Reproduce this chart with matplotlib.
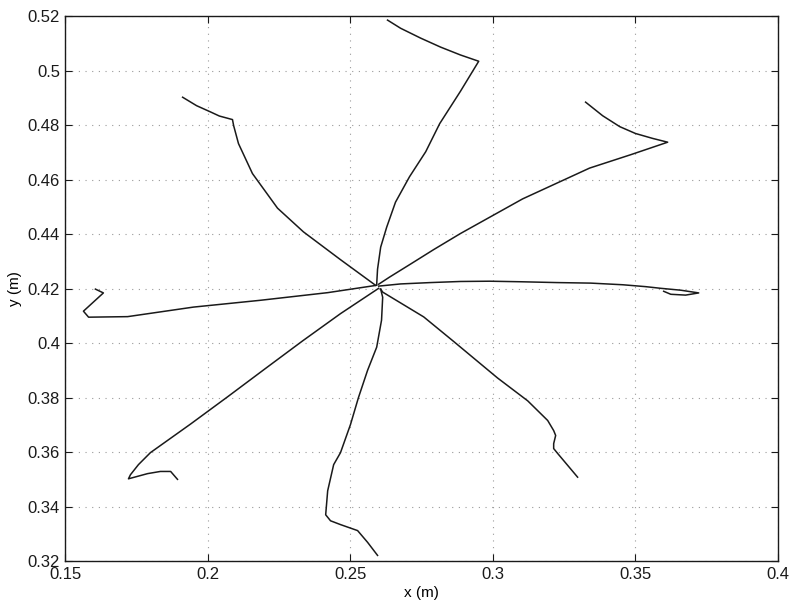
import matplotlib
matplotlib.use("Agg")
import matplotlib.pyplot as plt
from matplotlib.ticker import FuncFormatter

# trajectories (x, y in metres), all starting near the centre point
path1_x = [0.2588, 0.2465, 0.2335, 0.2244, 0.2156, 0.2107, 0.2090, 0.2086, 0.2040, 0.2009, 0.1960, 0.1911]
path1_y = [0.4213, 0.4307, 0.4409, 0.4496, 0.4623, 0.4733, 0.4799, 0.4821, 0.4834, 0.4849, 0.4872, 0.4903]

path2_x = [0.2592, 0.2595, 0.2606, 0.2627, 0.2658, 0.2707, 0.2764, 0.2813, 0.2886, 0.2950,
           0.2886, 0.2816, 0.2746, 0.2676, 0.2630]
path2_y = [0.4217, 0.4272, 0.4353, 0.4426, 0.4518, 0.4611, 0.4703, 0.4806, 0.4925, 0.5035,
           0.5058, 0.5087, 0.5120, 0.5156, 0.5186]

path3_x = [0.2599, 0.2637, 0.2711, 0.2792, 0.2886, 0.3104, 0.3339, 0.3483, 0.3613,
           0.3560, 0.3500, 0.3445, 0.3385, 0.3325]
path3_y = [0.4217, 0.4243, 0.4291, 0.4344, 0.4403, 0.4530, 0.4643, 0.4692, 0.4738,
           0.4752, 0.4770, 0.4795, 0.4835, 0.4885]

path4_x = [0.2599, 0.2676, 0.2781, 0.2886, 0.2988, 0.3097, 0.3223, 0.3343, 0.3455, 0.3536,
           0.3588, 0.3659, 0.3722, 0.3676, 0.3624, 0.3599]
path4_y = [0.4210, 0.4218, 0.4223, 0.4227, 0.4228, 0.4226, 0.4223, 0.4221, 0.4215, 0.4208,
           0.4202, 0.4195, 0.4185, 0.4177, 0.4180, 0.4191]

path5_x = [0.2592, 0.2420, 0.2184, 0.1949, 0.1718, 0.1581, 0.1563, 0.1633, 0.1605]
path5_y = [0.4213, 0.4186, 0.4158, 0.4133, 0.4098, 0.4096, 0.4118, 0.4185, 0.4199]

path6_x = [0.2606, 0.2613, 0.2757, 0.2862, 0.3016, 0.3122, 0.3192, 0.3213, 0.3220, 0.3213,
           0.3213, 0.3227, 0.3297]
path6_y = [0.4199, 0.4188, 0.4097, 0.4007, 0.3873, 0.3789, 0.3717, 0.3680, 0.3662, 0.3632,
           0.3614, 0.3596, 0.3509]

path7_x = [0.2599, 0.2465, 0.2332, 0.2202, 0.2069, 0.1939, 0.1798, 0.1756, 0.1728, 0.1721,
           0.1788, 0.1833, 0.1869, 0.1893]
path7_y = [0.4202, 0.4109, 0.4009, 0.3908, 0.3804, 0.3704, 0.3599, 0.3555, 0.3518, 0.3503,
           0.3522, 0.3530, 0.3530, 0.3501]

path8_x = [0.2606, 0.2613, 0.2609, 0.2592, 0.2560, 0.2528, 0.2500, 0.2465, 0.2441, 0.2420,
           0.2413, 0.2430, 0.2465, 0.2525, 0.2560, 0.2595]
path8_y = [0.4199, 0.4169, 0.4085, 0.3986, 0.3901, 0.3801, 0.3702, 0.3599, 0.3555, 0.3459,
           0.3371, 0.3349, 0.3335, 0.3313, 0.3270, 0.3222]

paths = [(path1_x, path1_y), (path2_x, path2_y), (path3_x, path3_y), (path4_x, path4_y),
         (path5_x, path5_y), (path6_x, path6_y), (path7_x, path7_y), (path8_x, path8_y)]

x_ticks = [0.15, 0.2, 0.25, 0.3, 0.35, 0.4]
y_ticks = [0.32, 0.34, 0.36, 0.38, 0.4, 0.42, 0.44, 0.46, 0.48, 0.5, 0.52]

plt.rcParams['font.family'] = ['Liberation Sans', 'DejaVu Sans']

fig = plt.figure(figsize=(7.89, 6.03), dpi=100)
ax = fig.add_axes([0.083, 0.069, 0.903, 0.904])

for px, py in paths:
    ax.plot(px, py, color='#1a1a1a', linewidth=1.1)

ax.set_xlim(0.15, 0.4)
ax.set_ylim(0.32, 0.52)
ax.set_xticks(x_ticks)
ax.set_yticks(y_ticks)
fmt = FuncFormatter(lambda v, pos: '%g' % round(v, 3))
ax.xaxis.set_major_formatter(fmt)
ax.yaxis.set_major_formatter(fmt)

# MATLAB-style dotted grid and inward ticks on all sides
ax.grid(True, linestyle=(0, (1, 5)), color='#9a9a9a', linewidth=0.8)
ax.tick_params(direction='in', length=5, width=0.8, top=True, right=True,
               labelsize=12, pad=4, colors='#1a1a1a')
for s in ax.spines.values():
    s.set_linewidth(1.0)
    s.set_color('#1a1a1a')

ax.set_xlabel('x (m)', fontsize=11, labelpad=3)
ax.set_ylabel('y (m)', fontsize=11, labelpad=4)

fig.savefig('out.png', dpi=100)
